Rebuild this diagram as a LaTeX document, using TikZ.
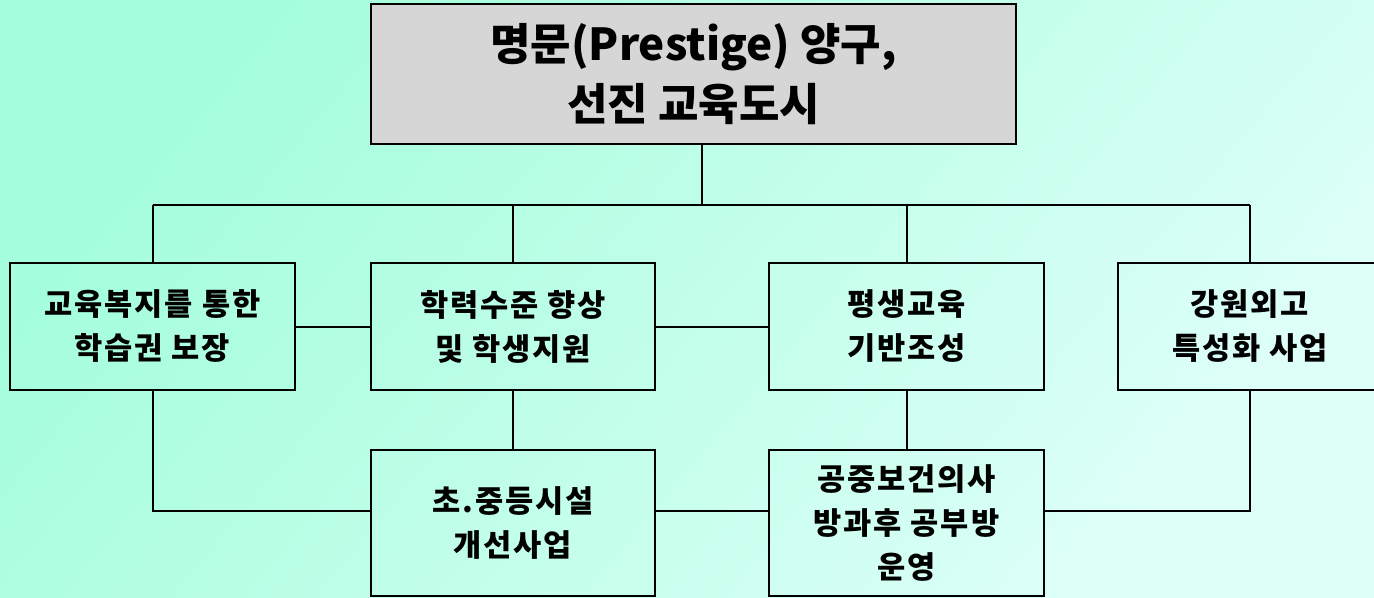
\documentclass[tikz,border=0pt]{standalone}
\usepackage{fontspec}
\newfontfamily\krfont[LetterSpace=6]{Noto Sans CJK KR}
\newfontfamily\krtitle{Noto Sans CJK KR}
\usetikzlibrary{positioning}
\definecolor{bgdark}{HTML}{A4FEDB}
\definecolor{bglight}{HTML}{DEFFF8}
\definecolor{topgray}{HTML}{D6D6D6}
\tikzset{box/.style={draw,line width=2pt,inner sep=0pt,align=center,font=\krfont\bfseries\fontsize{23}{33}\selectfont}}
\tikzset{goalbox/.style={box,fill=topgray,font=\krtitle\bfseries\fontsize{33}{45}\selectfont}}
\tikzset{link/.style={line width=1.5pt}}

\begin{document}
\begin{tikzpicture}[x=0.75pt,y=-0.75pt]
  \shade[top color=bgdark,bottom color=bglight,shading angle=50] (0,0) rectangle (1374,597);
  \useasboundingbox (0,0) rectangle (1374,597);
  \node[goalbox,minimum width=483.75pt,minimum height=105pt] (goal) at (693.5,74) {명문(Prestige) 양구,\\선진 교육도시};
  \node[box,minimum width=213.75pt,minimum height=95.25pt] (welfare) at (152.5,326.5) {교육복지를 통한\\학습권 보장};
  \node[box,minimum width=213pt,minimum height=95.25pt] (level) at (513,326.5) {학력수준 향상\\및 학생지원};
  \node[box,minimum width=206.25pt,minimum height=95.25pt] (lifelong) at (906.5,326.5) {평생교육\\기반조성};
  \node[box,minimum width=198pt,minimum height=95.25pt] (foreign) at (1250,326.5) {강원외고\\특성화 사업};
  \node[box,minimum width=213pt,minimum height=109.5pt] (facility) at (513,523) {초.중등시설\\개선사업};
  \node[box,minimum width=206.25pt,minimum height=109.5pt] (study) at (906.5,523) {공중보건의사\\방과후 공부방\\운영};
  \coordinate (hub) at (702,205);
  \coordinate (low) at (0,511);
  \draw[link] (goal.south -| hub) -- (hub);
  \draw[link] (welfare.north |- hub) -- (foreign.north |- hub);
  \foreach \n in {welfare,level,lifelong,foreign}
    \draw[link] (\n.north) -- (\n.north |- hub);
  \draw[link] (welfare.east) -- (level.west);
  \draw[link] (level.east) -- (lifelong.west);
  \draw[link] (level.south) -- (facility.north);
  \draw[link] (lifelong.south) -- (study.north);
  \draw[link] (welfare.south) |- (facility.west |- low);
  \draw[link] (facility.east |- low) -- (study.west |- low);
  \draw[link] (study.east |- low) -| (foreign.south);
\end{tikzpicture}
\end{document}
